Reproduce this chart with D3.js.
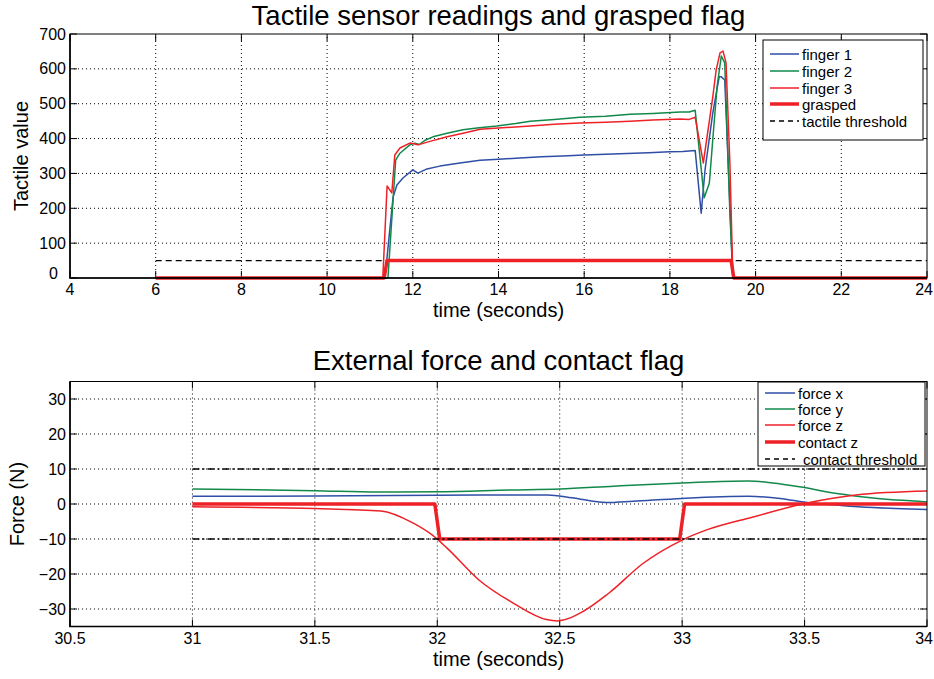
<!DOCTYPE html>
<html><head><meta charset="utf-8">
<script src="https://cdn.jsdelivr.net/npm/d3@7"></script>
<style>body{margin:0;background:#fff}svg{display:block}text{font-family:"Liberation Sans",Arial,Helvetica,sans-serif;fill:#000}</style>
</head><body><svg id="c" width="934" height="679"></svg>
<script>
// ---------- DATA (top panel) ----------
const topXTicks = [4,6,8,10,12,14,16,18,20,22,24];
const topYTicks = [0,100,200,300,400,500,600,700];
const finger1T = [6,11.35,11.54,11.63,11.77,12.0,12.12,12.33,12.63,13.1,13.57,14.0,14.5,15.0,15.5,16.0,16.5,17.0,17.5,18.0,18.3,18.59,18.73,18.82,19.0,19.15,19.2,19.28,19.47,24];
const finger1V = [0,0,232,267,287,310,301,313,321,330,338,341,344,348,350,353,355,357,359,362,363,366,186,310,473,577,577,568,0,0];
const finger2T = [6,11.42,11.6,11.7,11.93,12.05,12.15,12.3,12.47,12.8,13.17,13.5,13.96,14.4,14.74,15.3,15.9,16.5,17.07,17.6,18.24,18.45,18.59,18.8,18.92,19.0,19.1,19.2,19.28,19.4,19.47,24];
const finger2V = [0,0,338,358,382,387,383,396,405,415,425,430,436,443,450,455,461,464,470,472,476,476,481,230,272,396,548,637,617,186,0,0];
const finger3T = [6,11.30,11.40,11.51,11.58,11.70,11.93,12.0,12.12,12.4,12.8,13.2,13.57,14.0,14.74,15.3,15.9,16.5,17.07,17.6,18.24,18.45,18.59,18.78,19.0,19.08,19.17,19.24,19.31,19.4,19.47,24];
const finger3V = [0,0,264,244,353,373,387,386,382,392,405,416,427,430,436,441,445,447,450,453,456,455,461,330,519,597,646,651,617,330,0,0];
const graspedT = [6,11.33,11.40,19.43,19.49,24];
const graspedV = [0,0,50,50,0,0];
const tactileThrT = [6,24];
const tactileThrV = [50,50];
const topLegend = ["finger 1","finger 2","finger 3","grasped","tactile threshold"];

// ---------- DATA (bottom panel) ----------
const botXTicks = [30.5,31,31.5,32,32.5,33,33.5,34];
const botYTicks = [-30,-20,-10,0,10,20,30];
const forceXT = [31,31.5,32,32.3,32.45,32.55,32.69,32.8,33.0,33.27,33.4,33.51,33.65,33.78,34];
const forceXV = [2.2,2.3,2.5,2.6,2.6,1.8,0.4,0.8,1.6,2.2,1.6,0.4,-0.4,-1.0,-1.6];
const forceYT = [31,31.5,31.76,32,32.3,32.5,32.72,33.0,33.27,33.37,33.48,33.64,33.78,34];
const forceYV = [4.3,3.8,3.4,3.5,4.0,4.3,5.1,6.0,6.6,6.0,4.9,2.9,1.7,0.6];
const forceZT = [31,31.5,31.77,31.9,31.98,32.04,32.17,32.31,32.45,32.49,32.6,32.7,32.84,33.0,33.1,33.29,33.51,33.71,34];
const forceZV = [-0.8,-1.3,-2.0,-5.4,-8.9,-12.6,-21.7,-28.3,-33.1,-33.4,-30.5,-25.5,-17,-10.3,-7.4,-3.7,0.3,2.6,3.7];
const contactT = [31,31.99,32.01,32.99,33.01,34];
const contactV = [0,0,-10,-10,0,0];
const contactThrT = [31,34];
const contactThrHi = [10,10];
const contactThrLo = [-10,-10];
const botLegend = ["force x","force y","force z","contact z","contact threshold"];

// ---------- STYLE ----------
const BLUE="#2f4fa6", GREEN="#12894a", RED="#ee2127";
const svg = d3.select("#c");

function panel(o){
  const x = d3.scaleLinear().domain(o.xd).range(o.xr);
  const y = d3.scaleLinear().domain(o.yd).range(o.yr);
  const g = svg.append("g");
  const [x0,x1]=o.xr, [y0,y1]=o.yr; // y0 bottom, y1 top
  // grid
  g.append("g").selectAll("line").data(o.xt.filter(v=>v>o.xd[0]&&v<o.xd[1])).join("line")
    .attr("x1",d=>x(d)).attr("x2",d=>x(d)).attr("y1",y0).attr("y2",y1)
    .attr("stroke","#000").attr("stroke-width",1).attr("stroke-dasharray","1,3");
  g.append("g").selectAll("line").data(o.yt.filter(v=>v>o.yd[0]&&v<o.yd[1])).join("line")
    .attr("y1",d=>y(d)).attr("y2",d=>y(d)).attr("x1",x0).attr("x2",x1)
    .attr("stroke","#000").attr("stroke-width",1).attr("stroke-dasharray","1,3");
  // ticks inside on all sides
  const tl=7;
  const tk=g.append("g").attr("stroke","#000").attr("stroke-width",1);
  o.xt.forEach(v=>{tk.append("line").attr("x1",x(v)).attr("x2",x(v)).attr("y1",y0).attr("y2",y0-tl);
                   tk.append("line").attr("x1",x(v)).attr("x2",x(v)).attr("y1",y1).attr("y2",y1+tl);});
  o.yt.forEach(v=>{tk.append("line").attr("y1",y(v)).attr("y2",y(v)).attr("x1",x0).attr("x2",x0+tl);
                   tk.append("line").attr("y1",y(v)).attr("y2",y(v)).attr("x1",x1).attr("x2",x1-tl);});
  // tick labels
  const lastX = o.xt[o.xt.length-1];
  g.append("g").selectAll("text").data(o.xt).join("text")
    .attr("x",d=>d===lastX?933:x(d)).attr("y",y0+17)
    .attr("text-anchor",d=>d===lastX?"end":"middle").attr("font-size",16)
    .text(d=>o.xf(d));
  g.append("g").selectAll("text").data(o.yt).join("text")
    .attr("x",d=>(o.zeroShift&&d===0)?x0-12:x0-4)
    .attr("y",d=>(o.zeroShift&&d===0)?y(d)+1:y(d)+5.5)
    .attr("text-anchor","end").attr("font-size",16)
    .text(d=>d<0?"\u2212"+Math.abs(d):String(d));
  // labels
  g.append("text").attr("x",(x0+x1)/2).attr("y",o.titleY).attr("text-anchor","middle").attr("font-size",27.5).text(o.title);
  g.append("text").attr("x",(x0+x1)/2).attr("y",y0+39).attr("text-anchor","middle").attr("font-size",20).text("time (seconds)");
  g.append("text").attr("transform",`translate(${o.ylx},${(y0+y1)/2}) rotate(-90)`).attr("text-anchor","middle").attr("font-size",20).text(o.ylabel);
  return {x,y,g};
}

function drawLine(p, T, V, color, w, dash, curve){
  const line=d3.line().x((d,i)=>p.x(T[i])).y(d=>p.y(d)).curve(curve||d3.curveLinear);
  p.g.append("path").datum(V).attr("d",line).attr("fill","none").attr("stroke",color)
    .attr("stroke-width",w).attr("stroke-dasharray",dash||null).attr("stroke-linejoin","round");
}
function box(p){
  const [x0,x1]=p.x.range(), [y0,y1]=p.y.range();
  p.g.append("rect").attr("x",x0).attr("y",y1).attr("width",x1-x0).attr("height",y0-y1)
    .attr("fill","none").attr("stroke","#000").attr("stroke-width",1);
  p.g.append("path").attr("d",`M${x0},${y1}V${y0}H${x1}`).attr("fill","none").attr("stroke","#000").attr("stroke-width",1.6);
}
function legend(p, bx, by, bw, bh, items, styles, textX, lineX0, lineX1, rowY){
  const lg=p.g.append("g");
  lg.append("rect").attr("x",bx).attr("y",by).attr("width",bw).attr("height",bh).attr("fill","#fff").attr("stroke","#000").attr("stroke-width",1);
  items.forEach((t,i)=>{
    const s=styles[i], yy=rowY[i];
    lg.append("line").attr("x1",lineX0).attr("x2",lineX1).attr("y1",yy).attr("y2",yy)
      .attr("stroke",s.c).attr("stroke-width",s.w).attr("stroke-dasharray",s.d||null);
    lg.append("text").attr("x",s.tx||textX).attr("y",yy+5.5).attr("font-size",15).text(t);
  });
}

// ---------- TOP ----------
const pT = panel({xd:[4,24],xr:[70,927],yd:[0,700],yr:[278,34],xt:topXTicks,yt:topYTicks,
  xf:d=>String(d),title:"Tactile sensor readings and grasped flag",titleY:25,ylabel:"Tactile value",ylx:28,zeroShift:true});
drawLine(pT,tactileThrT,tactileThrV,"#000",1.3,"6,4");
drawLine(pT,finger1T,finger1V,BLUE,1.5);
drawLine(pT,finger2T,finger2V,GREEN,1.5);
drawLine(pT,finger3T,finger3V,RED,1.5);
drawLine(pT,graspedT,graspedV,RED,3.5);
box(pT);
legend(pT,763,40,160,100,topLegend,
  [{c:BLUE,w:1.5},{c:GREEN,w:1.5},{c:RED,w:1.5},{c:RED,w:3.5},{c:"#000",w:1.3,d:"5,4"}],
  802,770,799,[54,71,88,104,121]);

// ---------- BOTTOM ----------
const pB = panel({xd:[30.5,34],xr:[70,927],yd:[-35,35],yr:[626.5,381.5],xt:botXTicks,yt:botYTicks,
  xf:d=>String(d),title:"External force and contact flag",titleY:370,ylabel:"Force (N)",ylx:24});
drawLine(pB,forceXT,forceXV,BLUE,1.5,null,d3.curveMonotoneX);
drawLine(pB,forceYT,forceYV,GREEN,1.5,null,d3.curveMonotoneX);
drawLine(pB,forceZT,forceZV,RED,1.5,null,d3.curveMonotoneX);
drawLine(pB,contactT,contactV,RED,3.5);
drawLine(pB,contactThrT,contactThrHi,"#000",1.3,"7,3,2,3");
drawLine(pB,contactThrT,contactThrLo,"#000",1.3,"7,3,2,3");
box(pB);
legend(pB,758,382,167,84,botLegend,
  [{c:BLUE,w:1.5},{c:GREEN,w:1.5},{c:RED,w:1.5},{c:RED,w:3.5},{c:"#000",w:1.3,d:"5,4",tx:803}],
  798,765,795,[393,409,425,442,459]);
</script></body></html>
